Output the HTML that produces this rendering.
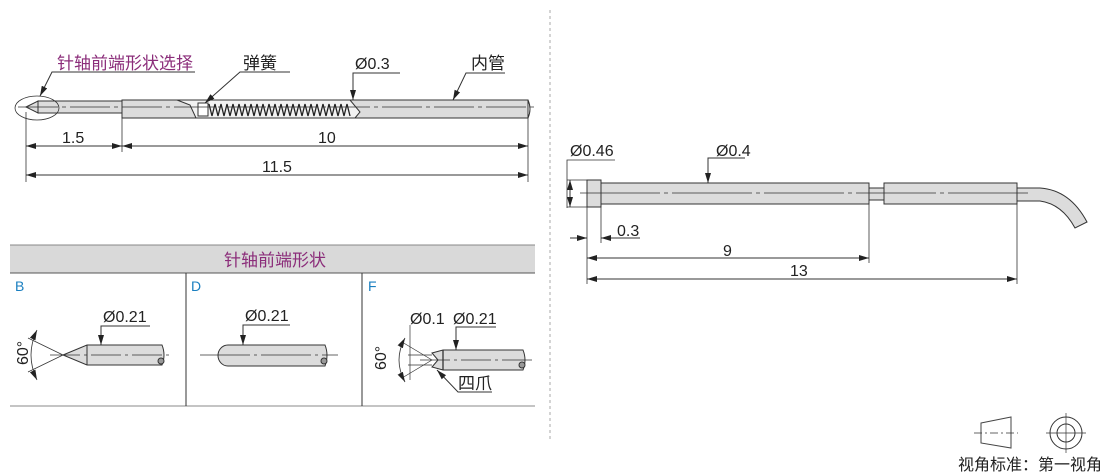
<!DOCTYPE html>
<html><head><meta charset="utf-8"><style>
html,body{margin:0;padding:0;background:#fff;}
svg{display:block;font-family:"Liberation Sans","Noto Sans CJK SC",sans-serif;}
</style></head><body>
<svg width="1110" height="475" viewBox="0 0 1110 475" xmlns="http://www.w3.org/2000/svg">
<defs>
<marker id="a" viewBox="0 0 10 6" refX="10" refY="3" markerWidth="10" markerHeight="6" orient="auto-start-reverse" markerUnits="userSpaceOnUse"><path d="M0,0 L10,3 L0,6 z" fill="#222"/></marker>
</defs>
<g stroke="#333" stroke-width="1" fill="none">
<line x1="550" y1="10" x2="550" y2="440" stroke="#aaa" stroke-dasharray="3,3"/>

<rect x="122" y="100" width="406" height="18" fill="#dcdcdc"/>
<path d="M528,100 q4,9 0,18" />
<rect x="38" y="101" width="84" height="12" fill="#dcdcdc"/>
<path d="M26,107 L38,101 L38,113 Z" fill="#dcdcdc"/>
<path d="M177,100 L350,100 L360,112 L355,118 L196,118 L190,105 Z" fill="#f2f2f2"/>
<rect x="198" y="103" width="10" height="13" fill="#fff"/>
<path d="M209,104 l3,12 l3,-12 l3,12 l3,-12 l3,12 l3,-12 l3,12 l3,-12 l3,12 l3,-12 l3,12 l3,-12 l3,12 l3,-12 l3,12 l3,-12 l3,12 l3,-12 l3,12 l3,-12 l3,12 l3,-12 l3,12 l3,-12 l3,12 l3,-12 l3,12 l3,-12 l3,12 l3,-12 l3,12 l3,-12 l3,12 l3,-12 l3,12 l3,-12 l3,12 l3,-12 l3,12 l3,-12 l3,12 l3,-12 l3,12 l3,-12 l3,12 l3,-12 l3,12" stroke="#222" stroke-width="1.3"/>
<line x1="18" y1="107" x2="538" y2="107" stroke-width="0.8" stroke-dasharray="40,4,4,4"/>
<ellipse cx="37" cy="108" rx="22" ry="12" stroke-width="0.8"/>
<path d="M195,72 L52,72 L40,96" marker-end="url(#a)"/>
<path d="M290,72 L240,72 L205,103" marker-end="url(#a)"/>
<path d="M400,73 L353,73 L353,100" marker-end="url(#a)"/>
<path d="M505,73 L466,73 L453,100" marker-end="url(#a)"/>
<line x1="26" y1="112" x2="26" y2="182" stroke-width="0.8"/>
<line x1="122" y1="118" x2="122" y2="152" stroke-width="0.8"/>
<line x1="528" y1="118" x2="528" y2="182" stroke-width="0.8"/>
<line x1="26" y1="146" x2="122" y2="146" marker-start="url(#a)" marker-end="url(#a)"/>
<line x1="122" y1="146" x2="528" y2="146" marker-start="url(#a)" marker-end="url(#a)"/>
<line x1="26" y1="175" x2="528" y2="175" marker-start="url(#a)" marker-end="url(#a)"/>

<rect x="10" y="245" width="525" height="28" fill="#d9d9d9" stroke="none"/>
<line x1="10" y1="245" x2="535" y2="245" stroke="#888"/>
<line x1="10" y1="273" x2="535" y2="273" stroke="#555"/>
<line x1="10" y1="406" x2="535" y2="406" stroke="#888"/>
<line x1="186" y1="273" x2="186" y2="406"/>
<line x1="362" y1="273" x2="362" y2="406"/>

<path d="M63,355 L87,345 L162,345 q4,10 0,20 L87,365 Z" fill="#dcdcdc"/>
<line x1="87" y1="345" x2="87" y2="365"/>
<circle cx="161" cy="361" r="3" fill="#999"/>
<line x1="50" y1="355" x2="170" y2="355" stroke-width="0.7" stroke-dasharray="30,4,3,4"/>
<line x1="63" y1="355" x2="28" y2="338" stroke-width="0.7"/>
<line x1="63" y1="355" x2="28" y2="372" stroke-width="0.7"/>
<path d="M37,330 Q25,355 37,380" marker-start="url(#a)" marker-end="url(#a)" stroke-width="0.8"/>
<path d="M150,326 L101,326 L101,345" marker-end="url(#a)"/>

<path d="M228,345 L325,345 q4,10 0,21 L228,366 a10,10.5 0 0 1 0,-21 Z" fill="#dcdcdc"/>
<circle cx="324" cy="361" r="3" fill="#999"/>
<line x1="200" y1="355" x2="338" y2="355" stroke-width="0.7" stroke-dasharray="50,4,3,4"/>
<path d="M290,325 L243,325 L243,345" marker-end="url(#a)"/>

<path d="M432,353 L443,350 L523,350 q4,10 0,20 L443,370 L432,367 L438,360 Z" fill="#dcdcdc"/>
<line x1="443" y1="350" x2="443" y2="370" stroke-width="1.3"/>
<circle cx="522" cy="365" r="3" fill="#999"/>
<line x1="420" y1="360" x2="535" y2="360" stroke-width="0.7" stroke-dasharray="30,4,3,4"/>
<line x1="432" y1="360" x2="402" y2="342" stroke-width="0.7"/>
<line x1="432" y1="360" x2="402" y2="378" stroke-width="0.7"/>
<line x1="408" y1="355" x2="432" y2="355" stroke-width="0.7"/>
<line x1="408" y1="365" x2="432" y2="365" stroke-width="0.7"/>
<line x1="410" y1="325" x2="410" y2="380" stroke-width="0.7"/>
<path d="M405,338 Q393,360 405,382" marker-start="url(#a)" marker-end="url(#a)" stroke-width="0.8"/>
<path d="M496,327 L456,327 L456,350" marker-end="url(#a)"/>
<path d="M492,392 L458,392 L437,370" marker-end="url(#a)"/>

<rect x="587" y="180" width="14" height="27" fill="#dcdcdc"/>
<rect x="601" y="183" width="268" height="21" fill="#dcdcdc"/>
<rect x="869" y="188" width="15" height="12" fill="#dcdcdc"/>
<rect x="884" y="183" width="133" height="21" fill="#dcdcdc"/>
<path d="M1017,188 L1040,188 Q1070,190 1087,222 L1075,228 Q1062,204 1040,201 L1017,201 Z" fill="#dcdcdc"/>
<line x1="580" y1="193" x2="1030" y2="193" stroke-width="0.7" stroke-dasharray="80,4,4,4"/>
<path d="M615,160 L567,160 L567,208" stroke-width="0.8"/>
<line x1="567" y1="180" x2="587" y2="180" stroke-width="0.7"/>
<line x1="567" y1="207" x2="587" y2="207" stroke-width="0.7"/>
<line x1="570" y1="180" x2="570" y2="207" marker-start="url(#a)" marker-end="url(#a)"/>
<path d="M745,158 L708,158 L708,183" marker-end="url(#a)"/>
<line x1="587" y1="207" x2="587" y2="284" stroke-width="0.8"/>
<line x1="601" y1="207" x2="601" y2="243" stroke-width="0.8"/>
<line x1="869" y1="204" x2="869" y2="263" stroke-width="0.8"/>
<line x1="1017" y1="204" x2="1017" y2="284" stroke-width="0.8"/>
<line x1="570" y1="238" x2="587" y2="238" marker-end="url(#a)"/>
<line x1="601" y1="238" x2="640" y2="238" marker-start="url(#a)"/>
<line x1="587" y1="258" x2="869" y2="258" marker-start="url(#a)" marker-end="url(#a)"/>
<line x1="587" y1="279" x2="1017" y2="279" marker-start="url(#a)" marker-end="url(#a)"/>

<path d="M981,423 L1011,417 L1011,448 L981,443 Z" stroke="#444"/>
<line x1="974" y1="433" x2="1018" y2="433" stroke-width="0.7" stroke-dasharray="8,3,2,3"/>
<circle cx="1066" cy="433" r="16"/>
<circle cx="1066" cy="433" r="9"/>
<line x1="1046" y1="433" x2="1086" y2="433" stroke-width="0.7"/>
<line x1="1066" y1="413" x2="1066" y2="453" stroke-width="0.7"/>
</g>

<g font-size="16" fill="#222">
<text x="57" y="69" fill="#8b2d7a" font-size="17">针轴前端形状选择</text>
<text x="243" y="69" font-size="17">弹簧</text>
<text x="355" y="69">Ø0.3</text>
<text x="471" y="69" font-size="17">内管</text>
<text x="62" y="143">1.5</text>
<text x="318" y="143">10</text>
<text x="262" y="172">11.5</text>
<text x="224" y="266" fill="#8b2d7a" font-size="17">针轴前端形状</text>
<text x="15" y="291" fill="#1a7fc0" font-size="14">B</text>
<text x="191" y="291" fill="#1a7fc0" font-size="14">D</text>
<text x="368" y="291" fill="#1a7fc0" font-size="14">F</text>
<text x="103" y="322">Ø0.21</text>
<text x="245" y="321">Ø0.21</text>
<text x="410" y="324">Ø0.1</text>
<text x="453" y="324">Ø0.21</text>
<text x="458" y="389" font-size="17">四爪</text>
<text transform="translate(28,365) rotate(-90)">60°</text>
<text transform="translate(386,370) rotate(-90)">60°</text>
<text x="570" y="156">Ø0.46</text>
<text x="716" y="156">Ø0.4</text>
<text x="617" y="236">0.3</text>
<text x="723" y="256">9</text>
<text x="790" y="276">13</text>
<text x="958" y="470" font-size="16">视角标准：第一视角</text>
</g>
</svg>
</body></html>
